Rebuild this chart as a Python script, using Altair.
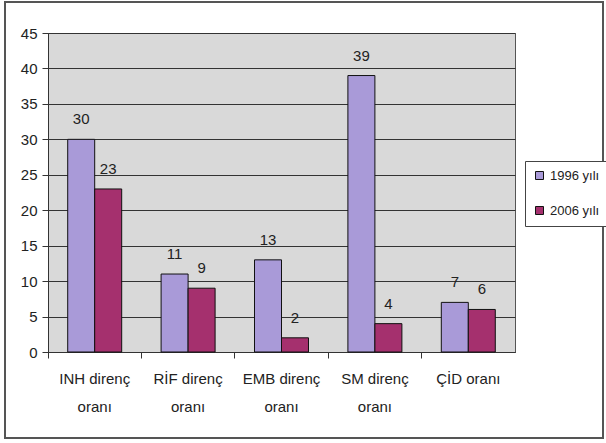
import altair as alt
import pandas as pd

categories = ["INH direnç|oranı", "RİF direnç|oranı", "EMB direnç|oranı", "SM direnç|oranı", "ÇİD oranı"]
series = ["1996 yılı", "2006 yılı"]
values_1996 = [30, 11, 13, 39, 7]
values_2006 = [23, 9, 2, 4, 6]
colors = ["#A99AD8", "#A5306E"]

rows = []
for c, a, b in zip(categories, values_1996, values_2006):
    rows.append({"cat": c, "yil": series[0], "val": a})
    rows.append({"cat": c, "yil": series[1], "val": b})
df = pd.DataFrame(rows)

FONT = "Liberation Sans"

x = alt.X("cat:N", sort=categories, title=None,
          scale=alt.Scale(paddingInner=0, paddingOuter=0),
          axis=alt.Axis(labelExpr="split(datum.label, '|')", labelAngle=0,
                        bandPosition=0, tickSize=6, labelPadding=13,
                        labelFontSize=15, labelColor="#222", labelFont=FONT,
                        labelLineHeight=28, domainColor="#333", tickColor="#333",
                        grid=False))
xo = alt.XOffset("yil:N", sort=series, scale=alt.Scale(paddingInner=0, paddingOuter=0.73))
y = alt.Y("val:Q", title=None,
          scale=alt.Scale(domain=[0, 45], nice=False),
          axis=alt.Axis(values=list(range(0, 50, 5)), tickSize=6, labelPadding=5,
                        labelFontSize=15, labelColor="#222", labelFont=FONT,
                        domainColor="#333", tickColor="#333",
                        grid=True, gridColor="#333", gridWidth=1))

bars = alt.Chart(df).mark_bar(stroke="#111", strokeWidth=1).encode(
    x=x, xOffset=xo, y=y,
    color=alt.Color("yil:N", sort=series, title=None,
                    scale=alt.Scale(domain=series, range=colors),
                    legend=alt.Legend(orient="none", legendX=477, legendY=128,
                                      symbolType="square", symbolSize=64,
                                      symbolStrokeColor="#111", symbolStrokeWidth=1,
                                      labelFontSize=13, labelFont=FONT, labelColor="#222",
                                      labelOffset=4, rowPadding=21, padding=8,
                                      strokeColor="#444", fillColor="white")),
)

labels = alt.Chart(df).mark_text(dy=-20, baseline="middle", fontSize=15, font=FONT, color="#222").encode(
    x=x, xOffset=xo, y=y, text="val:Q"
)

frame = alt.Chart(df).mark_rect(fill=None, stroke="#555", strokeWidth=1.5, clip=False).encode(
    x=alt.value(-43), x2=alt.value(555), y=alt.value(-31), y2=alt.value(405)
)

chart = alt.layer(frame, bars, labels).properties(
    width=467, height=319,
    autosize=alt.AutoSizeParams(type="none"),
    padding={"left": 48, "top": 33, "right": 91, "bottom": 91},
    background="white",
).configure_view(fill="#D9D9D9", stroke="#555", strokeWidth=1)

chart.save("out.html", embed_options={"renderer": "svg", "actions": False})
